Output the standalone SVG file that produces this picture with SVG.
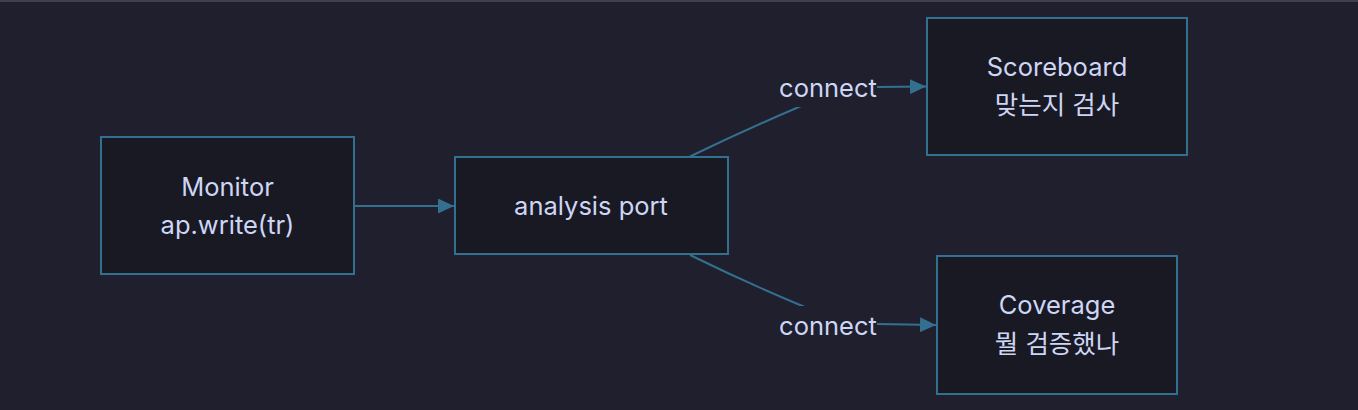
<svg xmlns="http://www.w3.org/2000/svg" width="1358" height="410" viewBox="0 0 1358 410">
<defs>
<style>
.bg{fill:#1f1f2d}
.node rect{fill:#191924;stroke:#33708f;stroke-width:2}
.t{font-family:Inter,"Noto Sans CJK KR",sans-serif;font-size:25.5px;fill:#cdd6f4;text-anchor:middle}
.edge{fill:none;stroke:#33708f;stroke-width:2}
.lblbg{fill:#1f1f2d}
</style>
<marker id="ah" markerUnits="userSpaceOnUse" markerWidth="16" markerHeight="15" refX="16" refY="7.5" orient="auto">
<path d="M0,0 L16,7.5 L0,15 z" fill="#33708f"/>
</marker>
</defs>
<rect class="bg" x="0" y="0" width="1358" height="410"/>
<rect x="0" y="0" width="1358" height="2" fill="#3f3f52"/>
<g id="connectors">
<path class="edge" d="M355,206 L454,206" marker-end="url(#ah)"/>
<path class="edge" d="M690,156.5 Q745,130 800,106.5 Q840,88 877,87 L926,86.5" marker-end="url(#ah)"/>
<path class="edge" d="M690,255 Q745,282 800,305 Q840,323 877,324 L936,325" marker-end="url(#ah)"/>
<g id="label-connect-1">
<rect class="lblbg" x="779" y="69" width="98" height="38"/>
<text class="t" x="828" y="96.5">connect</text>
</g>
<g id="label-connect-2">
<rect class="lblbg" x="779" y="306" width="98" height="38"/>
<text class="t" x="828" y="334.5">connect</text>
</g>
</g>
<g id="monitor" class="node">
<rect x="101" y="137" width="253" height="137"/>
<text class="t" x="227.5" y="195.5">Monitor</text>
<text class="t" x="227.5" y="234">ap.write(tr)</text>
</g>
<g id="analysis-port" class="node">
<rect x="455" y="157" width="273" height="97"/>
<text class="t" x="591" y="215">analysis port</text>
</g>
<g id="scoreboard" class="node">
<rect x="927" y="18" width="260" height="137"/>
<text class="t" x="1057" y="75.5">Scoreboard</text>
<text class="t" x="1057" y="114">맞는지 검사</text>
</g>
<g id="coverage" class="node">
<rect x="937" y="256" width="240" height="138"/>
<text class="t" x="1057" y="314">Coverage</text>
<text class="t" x="1057" y="352.5">뭘 검증했나</text>
</g>
</svg>
